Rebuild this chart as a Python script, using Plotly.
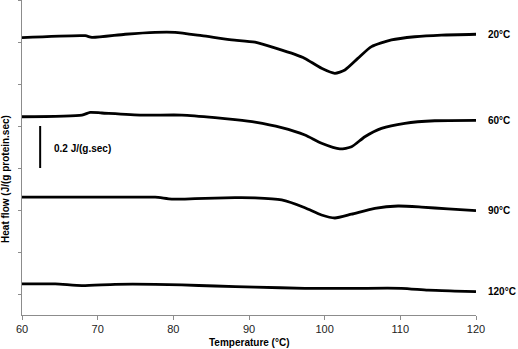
import plotly.graph_objects as go

# Temperature (°C) and heat flow (J/(g·s), offset for stacking)
t20 = [60.0, 68.35, 69.24, 73.63, 77.59, 80.23, 83.76, 87.72, 90.79, 96.07, 97.39, 99.59, 101.35, 102.67, 104.38, 106.19, 108.83, 111.91, 115.43, 120.0]
v20 = [1.221, 1.230, 1.222, 1.237, 1.246, 1.246, 1.230, 1.210, 1.199, 1.141, 1.122, 1.075, 1.051, 1.067, 1.122, 1.178, 1.210, 1.225, 1.233, 1.237]

t60 = [60.0, 67.92, 69.01, 70.56, 75.84, 81.12, 85.51, 88.15, 90.79, 94.31, 97.39, 99.59, 102.01, 103.55, 105.31, 107.51, 110.59, 114.55, 120.0]
v60 = [0.844, 0.852, 0.865, 0.862, 0.852, 0.852, 0.840, 0.830, 0.818, 0.792, 0.757, 0.718, 0.691, 0.701, 0.749, 0.789, 0.813, 0.825, 0.827]

t90 = [60.0, 66.15, 73.2, 77.59, 79.8, 82.87, 88.15, 90.79, 94.31, 97.39, 99.59, 101.35, 103.55, 106.63, 109.7, 112.79, 116.3, 120.0]
v90 = [0.461, 0.461, 0.461, 0.461, 0.452, 0.454, 0.459, 0.458, 0.448, 0.411, 0.376, 0.362, 0.380, 0.408, 0.419, 0.414, 0.405, 0.397]

t120 = [60.0, 64.39, 67.92, 72.31, 77.59, 81.12, 85.51, 90.79, 97.39, 103.99, 110.15, 113.66, 117.18, 120.0]
v120 = [0.048, 0.048, 0.040, 0.046, 0.046, 0.043, 0.038, 0.033, 0.027, 0.027, 0.027, 0.018, 0.014, 0.011]

series = [
    ("20°C", t20, v20),
    ("60°C", t60, v60),
    ("90°C", t90, v90),
    ("120°C", t120, v120),
]

scale_x = [62.4, 62.4]
scale_y = [0.6, 0.8]
scale_label = "0.2 J/(g.sec)"

x_ticks = [60, 70, 80, 90, 100, 110, 120]
y_ticks = [0, 0.2, 0.4, 0.6, 0.8, 1.0, 1.2, 1.4]

FONT = "Liberation Sans, Arial, sans-serif"

fig = go.Figure()
for name, t, v in series:
    fig.add_trace(go.Scatter(x=t, y=v, mode="lines", name=name,
                             line=dict(color="black", width=2.8, shape="spline", smoothing=0.6),
                             showlegend=False, hoverinfo="skip"))

fig.add_trace(go.Scatter(x=scale_x, y=scale_y, mode="lines",
                         line=dict(color="black", width=2), showlegend=False, hoverinfo="skip"))

annotations = []
for name, t, v in series:
    annotations.append(dict(x=t[-1], y=v[-1], xref="x", yref="y", text="<b>%s</b>" % name,
                            showarrow=False, xanchor="left", xshift=10,
                            font=dict(family=FONT, size=10, color="black")))
annotations.append(dict(x=64.0, y=0.695, xref="x", yref="y", text="<b>%s</b>" % scale_label,
                        showarrow=False, xanchor="left",
                        font=dict(family=FONT, size=10, color="black")))
annotations.append(dict(x=-16 / 454, y=0.432, xref="paper", yref="paper", xanchor="center",
                        text="<b>Heat flow (J/(g protein.sec)</b>", textangle=-90,
                        showarrow=False, font=dict(family=FONT, size=10, color="black")))
annotations.append(dict(x=0.5, y=-27 / 315, xref="paper", yref="paper", yanchor="middle",
                        text="<b>Temperature (°C)</b>", showarrow=False,
                        font=dict(family=FONT, size=10, color="black")))

fig.update_layout(
    width=518, height=349,
    margin=dict(l=22, r=42, t=0, b=34),
    paper_bgcolor="white", plot_bgcolor="white",
    font=dict(family=FONT, size=11, color="black"),
    annotations=annotations,
)
fig.update_xaxes(range=[60, 120], tickvals=x_ticks, ticks="outside", ticklen=4,
                 tickcolor="#8c8c8c", showline=True, linecolor="#8c8c8c", linewidth=1,
                 showgrid=False, zeroline=False, tickfont=dict(family=FONT, size=11, color="#222"))
fig.update_yaxes(range=[-0.1, 1.4], tickvals=y_ticks, ticks="outside", ticklen=3,
                 tickcolor="#8c8c8c", showline=True, linecolor="#8c8c8c", linewidth=1,
                 showgrid=False, zeroline=False, showticklabels=False)

fig.write_html("out.html", config={"displayModeBar": False},
               post_script="document.body.style.margin='0px';")
